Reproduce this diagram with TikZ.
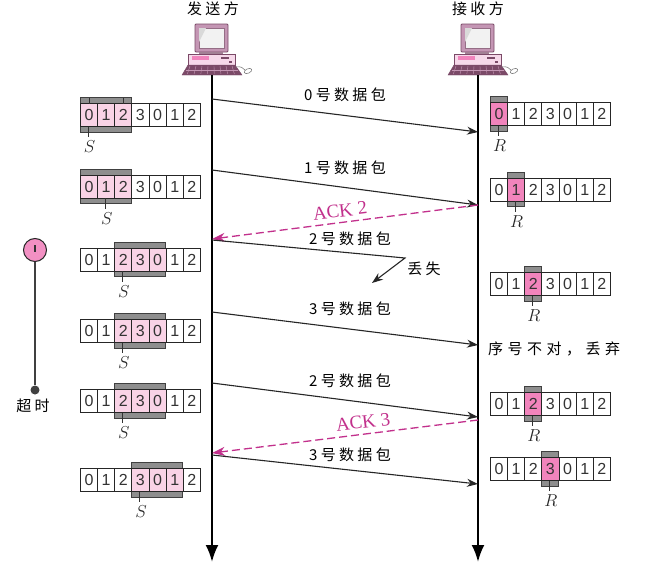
\documentclass[tikz,border=0pt]{standalone}
\usepackage{fontspec}
\setmainfont{Liberation Serif}
\newfontfamily\cjk[LetterSpace=22]{Noto Sans CJK SC}
\newfontfamily\cjkwide[LetterSpace=30]{Noto Sans CJK SC}
\newfontfamily\cellfont{Liberation Sans}
\usetikzlibrary{arrows.meta}
\definecolor{lightpk}{HTML}{F9D3E6}
\definecolor{strongpk}{HTML}{F184BC}
\definecolor{wingray}{HTML}{8E8E8E}
\definecolor{ackpk}{HTML}{C2308C}
\definecolor{pcdark}{HTML}{7B4A68}
\definecolor{pcmid}{HTML}{C496B4}
\definecolor{pclight}{HTML}{F6D9EA}
\tikzset{
  cellbox/.style={draw=black!85,line width=.9pt,minimum width=17.14pt,minimum height=23pt,inner sep=0pt,anchor=west,font=\cellfont\fontsize{16}{16}\selectfont,text=black!80},
  graybox/.style={draw=black!75,line width=.9pt,fill=wingray},
  tick/.style={draw=black!80,line width=1pt},
  lifeline/.style={draw=black,line width=2.4pt,-{Latex[length=17pt,width=13pt]}},
  pkt/.style={draw=black!85,line width=1.1pt,-{Stealth[length=11pt,width=8pt]}},
  ack/.style={draw=ackpk,line width=1.3pt,dash pattern=on 8pt off 4pt,-{Stealth[length=13pt,width=9pt]}},
  lbl/.style={font=\cjk\fontsize{15}{15}\selectfont,text=black,inner sep=0pt},
  acklbl/.style={font=\fontsize{19}{19}\selectfont,text=ackpk,inner sep=0pt},
  winlbl/.style={font=\itshape\fontsize{17}{17}\selectfont,text=black!85,inner sep=0pt},
}
% name, left x, centre y, first cell, cells in window, fill, letter, letter cell
\newcommand{\win}[8]{%
  \path[graybox] ({#2+17.14*#4},{#3-17.5}) rectangle ({#2+17.14*(#4+#5)},{#3+17});
  \foreach \i/\d in {0/0,1/1,2/2,3/3,4/0,5/1,6/2}{%
    \pgfmathtruncatemacro{\inw}{(\i>=#4)&&(\i<#4+#5)}%
    \ifnum\inw=1
      \node[cellbox,fill=#6] (#1-\i) at ({#2+17.14*\i},#3) {\d};
    \else
      \node[cellbox,fill=white] (#1-\i) at ({#2+17.14*\i},#3) {\d};
    \fi
  }%
  \path[tick] ({#2+17.14*(#8+.5)},{#3+11.5}) -- ({#2+17.14*(#8+.5)},{#3+22});
  \node[winlbl] (#1-l) at ({#2+17.14*(#8+.5)+1},{#3+32}) {#7};
}
\newcommand{\pc}{%
  \fill[pcmid,draw=pcdark,line width=.8pt,rounded corners=1pt] (195,24) rectangle (228,52);
  \fill[white!90!gray,draw=pcdark!80,line width=.5pt] (199,28) rectangle (224,48);
  \fill[gray!30] (199,28) -- (206,28) -- (199,42) -- cycle;
  \fill[pcdark!70] (199,52) rectangle (223,55);
  \fill[pclight,draw=pcdark,line width=.7pt] (188,54) rectangle (235,65);
  \fill[strongpk] (192,56) rectangle (209,60);
  \fill[pcdark] (221,57) rectangle (229,59);
  \fill[pcdark] (229,61) rectangle (232,63);
  \fill[pcdark,draw=pcdark] (188,65) -- (235,65) -- (242,75) -- (182,75) -- cycle;
  \foreach \k in {190,196,...,232}{\draw[pcmid,line width=.4pt] (\k,66) -- ({\k+(\k-212)*.12},74);}
  \draw[pcmid,line width=.4pt] (186,70) -- (238,70);
  \draw[gray,line width=.6pt] (236,67) .. controls (241,66) and (243,68) .. (245,70);
  \fill[white,draw=gray,line width=.6pt,rotate around={25:(248,71)}] (248,71) ellipse (4 and 2.2);
}
\begin{document}
\begin{tikzpicture}[x=1pt,y=-1pt]
\useasboundingbox (0,0) rectangle (648,570);
\fill[white] (0,0) rectangle (648,570);
% computers
\pc
\begin{scope}[shift={(266,0)}]\pc\end{scope}
\node[lbl] (sendtitle) at (213,9) {发送方};
\node[lbl] (recvtitle) at (478,9) {接收方};
% lifelines
\coordinate (st) at (212,75); \coordinate (se) at (212,562);
\coordinate (rt) at (478,75); \coordinate (re) at (478,562);
\draw[lifeline] (st) -- (se);
\draw[lifeline] (rt) -- (re);
% sender windows
\win{a}{80}{115}{0}{3}{lightpk}{$S$}{0}
\path[tick] (89,97.5) -- (89,103.5);
\path[tick] (123,97.5) -- (123,103.5);
\win{b}{80}{186.5}{0}{3}{lightpk}{$S$}{1}
\win{c}{80}{259.5}{2}{3}{lightpk}{$S$}{2}
\win{d}{80}{331}{2}{3}{lightpk}{$S$}{2}
\win{e}{80}{401}{2}{3}{lightpk}{$S$}{2}
\win{f}{80}{480}{3}{3}{lightpk}{$S$}{3}
% receiver windows
\win{p}{490}{114}{0}{1}{strongpk}{$R$}{0}
\win{q}{490}{189.5}{1}{1}{strongpk}{$R$}{1}
\win{r}{490}{284}{2}{1}{strongpk}{$R$}{2}
\win{t}{490}{404}{2}{1}{strongpk}{$R$}{2}
\win{u}{490}{469}{3}{1}{strongpk}{$R$}{3}
% timer
\node[circle,draw=black!85,line width=1pt,fill=strongpk!90,minimum size=23pt,inner sep=0pt] (timer) at (35,250) {};
\node[circle,fill=black!75,minimum size=9pt,inner sep=0pt] (tdot) at (35,390) {};
\draw[black!75,line width=1.1pt] (timer) -- (tdot);
\draw[black!80,line width=1.3pt] (35,245) -- (35,252);
\node[lbl] (timeout) at (33,406) {超时};
% end points
\coordinate (s0) at (212,99);  \coordinate (r0) at (478,132);
\coordinate (s1) at (212,170); \coordinate (r1) at (478,205);
\coordinate (a2r) at (478,205); \coordinate (a2s) at (212,239);
\coordinate (s2) at (212,240); \coordinate (knee) at (405,258); \coordinate (lost) at (372,283);
\coordinate (s3) at (212,312); \coordinate (r3) at (478,345);
\coordinate (s4) at (212,383); \coordinate (r4) at (478,417);
\coordinate (a3r) at (478,420); \coordinate (a3s) at (212,453);
\coordinate (s5) at (212,455); \coordinate (r5) at (478,484);
\draw[pkt] (s0) -- (r0);
\draw[pkt] (s1) -- (r1);
\draw[ack] (a2r) -- (a2s);
\draw[pkt] (s2) -- (knee) -- (lost);
\draw[pkt] (s3) -- (r3);
\draw[pkt] (s4) -- (r4);
\draw[ack] (a3r) -- (a3s);
\draw[pkt] (s5) -- (r5);
% labels
\node[lbl] (l0) at (345,95) {0号数据包};
\node[lbl] (l1) at (345,168) {1号数据包};
\node[acklbl,rotate=7] (la2) at (340,211) {ACK 2};
\node[lbl] (l2) at (350,239) {2号数据包};
\node[lbl] (llost) at (424,269) {丢失};
\node[lbl] (l3) at (350,309) {3号数据包};
\node[lbl,font=\cjkwide\fontsize{15}{15}\selectfont] (lwrong) at (554,349) {序号不对，丢弃};
\node[lbl] (l4) at (350,381) {2号数据包};
\node[acklbl,rotate=7] (la3) at (363,422) {ACK 3};
\node[lbl] (l5) at (350,455) {3号数据包};
\end{tikzpicture}
\end{document}
